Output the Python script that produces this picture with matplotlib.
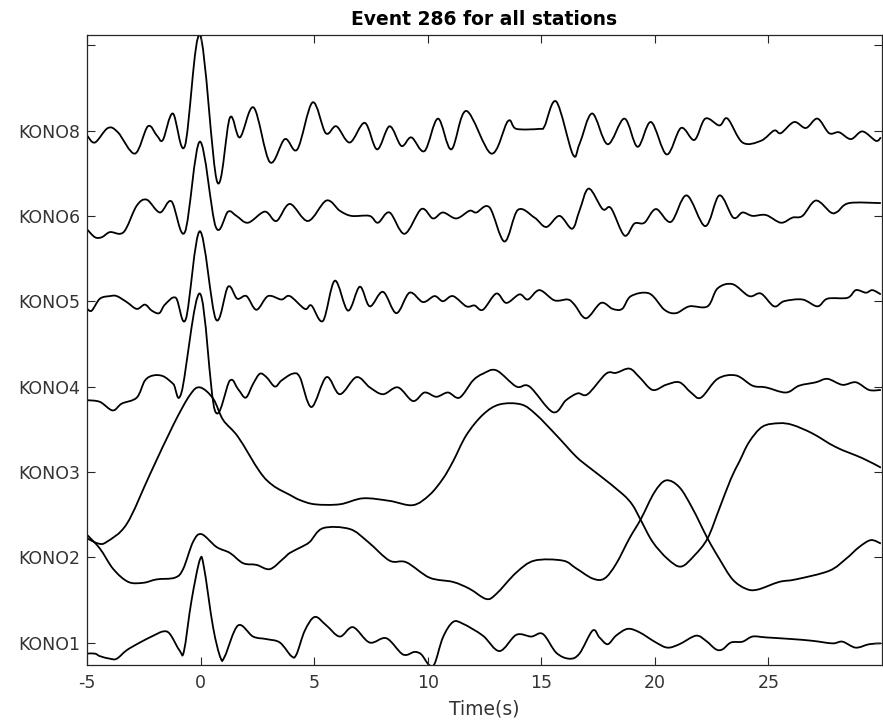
import matplotlib
matplotlib.use("Agg")
import matplotlib.pyplot as plt
from matplotlib.path import Path
from matplotlib.patches import PathPatch
import numpy as np

# Station names in plotting order (bottom to top) and their vertical offsets
stations = ["KONO1", "KONO2", "KONO3", "KONO4", "KONO5", "KONO6", "KONO8"]
offsets = [1, 2, 3, 4, 5, 6, 7]

# Normalised waveforms: time (s) and amplitude (trace units)
t_kono8 = [-4.99, -4.65, -4.08, -3.64, -2.89, -2.32, -1.92, -1.66, -1.22, -0.69, -0.03, 0.73,
           1.29, 1.73, 2.34, 3.05, 3.71, 4.26, 4.93, 5.51, 5.98, 6.57, 7.23, 7.77, 8.32, 8.84,
           9.28, 9.86, 10.45, 11.04, 11.70, 12.80, 13.53, 13.90, 14.92, 15.14, 15.66, 16.39,
           16.68, 17.24, 17.92, 18.66, 19.24, 19.83, 20.52, 21.15, 21.74, 22.22, 22.84, 23.20,
           23.86, 24.67, 25.25, 25.55, 26.13, 26.65, 27.16, 27.67, 28.11, 28.63, 29.14, 29.73, 29.95]
a_kono8 = [-0.06, -0.14, 0.03, -0.02, -0.27, 0.05, -0.06, -0.11, 0.20, -0.18, 1.12, -0.60,
           0.15, -0.08, 0.27, -0.37, -0.10, -0.22, 0.33, -0.03, 0.05, -0.14, 0.09, -0.22, 0.05, -0.18,
           -0.08, -0.24, 0.14, -0.22, 0.23, -0.27, 0.11, 0.02, 0.02, 0.05, 0.34, -0.28,
           -0.16, 0.20, -0.16, 0.14, -0.19, 0.10, -0.28, 0.03, -0.11, 0.14, 0.06, 0.14,
           -0.14, -0.12, 0.00, -0.03, 0.10, 0.03, 0.14, -0.03, -0.02, -0.10, -0.01, -0.12, -0.08]

t_kono6 = [-4.99, -4.65, -4.35, -3.99, -3.55, -3.28, -2.81, -2.37, -1.79, -1.28, -0.69, -0.03,
           0.67, 1.21, 1.58, 2.09, 2.83, 3.34, 3.93, 4.73, 5.54, 6.13, 6.64, 7.44, 7.81, 8.32,
           8.98, 9.72, 10.23, 10.67, 11.26, 11.84, 12.14, 12.72, 13.38, 13.97, 14.70, 15.22,
           15.80, 16.36, 16.68, 17.09, 17.70, 18.07, 18.66, 19.10, 19.54, 20.05, 20.71, 21.40,
           22.22, 22.84, 23.45, 23.86, 24.30, 24.89, 25.55, 26.06, 26.50, 27.09, 27.75, 28.04,
           28.55, 29.95]
a_kono6 = [-0.16, -0.25, -0.25, -0.19, -0.21, -0.15, 0.12, 0.19, 0.04, 0.17, -0.19, 0.87,
           -0.13, 0.05, 0.00, -0.08, 0.05, -0.06, 0.14, -0.06, 0.18, 0.06, 0.00, 0.00, -0.08, 0.04,
           -0.21, 0.08, -0.03, 0.04, -0.03, 0.06, 0.04, 0.10, -0.30, 0.07, -0.02, -0.13,
           0.00, -0.15, 0.06, 0.32, 0.08, 0.09, -0.23, -0.09, -0.08, 0.08, -0.07, 0.24,
           -0.12, 0.24, -0.02, 0.04, 0.00, 0.01, -0.08, -0.02, 0.00, 0.18, 0.04, 0.05,
           0.15, 0.15]

t_kono5 = [-4.99, -4.79, -4.43, -3.99, -3.69, -3.25, -2.81, -2.45, -2.15, -1.82, -1.57, -1.09,
           -0.65, -0.03, 0.67, 1.21, 1.61, 2.02, 2.46, 2.97, 3.56, 3.93, 4.59, 4.88, 5.39, 5.91,
           6.49, 7.01, 7.45, 8.03, 8.62, 9.20, 9.79, 10.30, 10.67, 11.11, 11.70, 12.06, 12.43,
           13.02, 13.46, 14.04, 14.41, 14.92, 15.58, 16.17, 16.46, 16.97, 17.63, 18.14, 18.56,
           18.95, 19.76, 20.42, 20.93, 21.52, 22.32, 22.76, 23.42, 24.15, 24.67, 25.25, 25.69,
           26.50, 27.16, 27.60, 28.48, 28.85, 29.29, 29.58, 29.95]
a_kono5 = [-0.09, -0.11, 0.03, 0.06, 0.06, -0.01, -0.09, -0.04, -0.11, -0.14, -0.04, 0.04,
           -0.21, 0.82, -0.21, 0.17, 0.03, 0.06, -0.10, 0.06, 0.02, 0.06, -0.09, -0.05, -0.23, 0.24,
           -0.11, 0.17, -0.06, 0.11, -0.14, 0.10, -0.01, 0.06, 0.00, 0.06, -0.06, -0.05, -0.10,
           0.09, -0.02, 0.08, 0.02, 0.13, 0.01, 0.02, -0.04, -0.20, -0.02, -0.09, -0.09,
           0.06, 0.09, -0.10, -0.14, -0.06, -0.06, 0.15, 0.20, 0.06, 0.09, -0.06, 0.00,
           0.02, -0.06, 0.03, 0.04, 0.13, 0.10, 0.13, 0.08]

t_kono4 = [-4.99, -4.43, -3.87, -3.47, -2.81, -2.45, -2.08, -1.64, -1.20, -0.84, -0.03, 0.63,
           1.29, 1.65, 1.99, 2.31, 2.61, 2.90, 3.27, 3.56, 4.05, 4.37, 4.88, 5.54, 6.13, 6.86,
           7.45, 8.03, 8.69, 9.35, 9.86, 10.38, 10.89, 11.40, 11.99, 12.43, 13.02, 13.90, 14.48,
           15.51, 16.09, 16.60, 17.04, 17.85, 18.29, 18.88, 19.32, 19.90, 20.49, 21.08, 21.59,
           22.03, 22.76, 23.57, 24.30, 24.89, 25.77, 26.35, 27.09, 27.60, 28.26, 28.85, 29.43, 29.95]
a_kono4 = [-0.16, -0.18, -0.28, -0.20, -0.13, 0.07, 0.13, 0.12, 0.03, -0.07, 1.09, -0.28,
           0.07, -0.03, -0.13, 0.03, 0.15, 0.11, 0.00, 0.07, 0.15, 0.11, -0.24, 0.11, -0.09, 0.11,
           -0.01, -0.09, -0.01, -0.17, -0.07, -0.12, -0.07, -0.13, 0.07, 0.15, 0.19, 0.00, 0.00,
           -0.30, -0.16, -0.08, -0.09, 0.15, 0.16, 0.21, 0.11, -0.04, 0.02, 0.05, -0.07,
           -0.13, 0.09, 0.13, 0.01, -0.01, -0.07, 0.01, 0.05, 0.09, 0.02, 0.05, -0.04, -0.04]

t_kono3 = [-4.99, -4.50, -4.13, -3.25, -2.23, -1.20, -0.47, -0.03, 0.55, 0.99, 1.65, 2.61,
           3.19, 3.93, 4.37, 5.03, 6.13, 7.15, 8.32, 9.35, 10.08, 10.67, 11.11, 11.70, 12.43,
           13.16, 14.12, 14.78, 15.66, 16.53, 17.12, 17.56, 18.58, 19.02, 19.39, 19.90, 20.56,
           21.15, 21.74, 22.32, 22.84, 23.35, 23.72, 24.15, 24.74, 25.47, 26.06, 26.94, 27.97,
           29.14, 29.95]
a_kono3 = [-0.78, -0.84, -0.82, -0.61, -0.03, 0.55, 0.90, 0.99, 0.86, 0.61, 0.41, 0.00,
           -0.16, -0.27, -0.33, -0.38, -0.38, -0.31, -0.34, -0.39, -0.27, -0.08, 0.12, 0.43, 0.67,
           0.79, 0.79, 0.67, 0.43, 0.18, 0.05, -0.04, -0.26, -0.39, -0.57, -0.82, -1.02,
           -1.11, -0.98, -0.78, -0.43, -0.08, 0.12, 0.35, 0.53, 0.57, 0.55, 0.45, 0.29,
           0.16, 0.05]

t_kono2 = [-4.99, -4.43, -3.84, -3.18, -2.52, -1.93, -1.13, -0.77, -0.33, 0.04, 0.70, 1.29,
           1.87, 2.46, 3.05, 3.63, 3.93, 4.44, 4.81, 5.39, 6.57, 7.37, 8.32, 9.06, 10.08, 11.11,
           11.84, 12.58, 13.02, 13.90, 14.70, 15.95, 16.53, 17.26, 17.78, 18.29, 18.88, 19.39,
           19.98, 20.49, 21.08, 21.66, 22.32, 22.84, 23.42, 24.01, 24.52, 25.47, 26.21, 27.67,
           28.41, 29.00, 29.51, 29.95]
a_kono2 = [0.26, 0.10, -0.14, -0.29, -0.30, -0.26, -0.24, -0.14, 0.18, 0.27, 0.12, 0.05,
           -0.07, -0.09, -0.14, -0.02, 0.05, 0.12, 0.18, 0.34, 0.33, 0.18, -0.04, -0.06, -0.24, -0.29,
           -0.37, -0.49, -0.43, -0.18, -0.04, -0.04, -0.13, -0.25, -0.25, -0.08, 0.22, 0.45,
           0.76, 0.90, 0.82, 0.57, 0.22, -0.02, -0.26, -0.37, -0.38, -0.29, -0.26, -0.16,
           -0.02, 0.12, 0.20, 0.16]

t_kono1 = [-4.99, -4.65, -4.43, -3.99, -3.69, -3.25, -2.67, -2.08, -1.64, -1.35, -0.91, -0.73,
           -0.40, -0.03, 0.15, 0.55, 0.88, 1.07, 1.65, 2.31, 2.90, 3.49, 4.00, 4.22, 4.59, 5.03,
           5.54, 6.13, 6.71, 7.44, 8.18, 8.91, 9.42, 9.72, 10.05, 10.30, 10.67, 11.11, 11.55,
           12.43, 13.16, 13.90, 14.56, 15.07, 15.66, 16.24, 16.68, 17.26, 17.56, 17.92, 18.29,
           18.80, 19.32, 20.05, 20.56, 21.08, 21.81, 22.25, 22.69, 22.98, 23.35, 23.86, 24.30,
           24.89, 26.06, 26.94, 27.82, 28.26, 28.84, 29.43, 29.95]
a_kono1 = [-0.13, -0.13, -0.16, -0.19, -0.19, -0.09, 0.00, 0.08, 0.13, 0.10, -0.10, -0.10,
           0.49, 0.97, 0.88, 0.18, -0.18, -0.16, 0.20, 0.07, 0.04, 0.00, -0.16, -0.14, 0.14, 0.30,
           0.20, 0.07, 0.18, 0.00, 0.05, -0.14, -0.11, -0.14, -0.26, -0.25, 0.06, 0.24, 0.22,
           0.08, -0.10, 0.09, 0.07, 0.10, -0.12, -0.19, -0.13, 0.14, 0.06, -0.02, 0.08,
           0.16, 0.12, 0.00, -0.06, -0.02, 0.08, 0.02, -0.08, -0.08, 0.00, 0.01, 0.07,
           0.06, 0.04, 0.02, -0.01, 0.01, -0.06, -0.02, -0.01]

traces = [
    (t_kono1, a_kono1),
    (t_kono2, a_kono2),
    (t_kono3, a_kono3),
    (t_kono4, a_kono4),
    (t_kono5, a_kono5),
    (t_kono6, a_kono6),
    (t_kono8, a_kono8),
]

x_ticks = [-5, 0, 5, 10, 15, 20, 25]


def smooth_trace_path(x, y):
    """Cubic Bezier path through every sample (Catmull-Rom tangents)."""
    pts = np.column_stack([x, y]).astype(float)
    n = len(pts)
    verts = [pts[0]]
    codes = [Path.MOVETO]
    for i in range(n - 1):
        p0 = pts[i - 1] if i > 0 else pts[i]
        p1 = pts[i]
        p2 = pts[i + 1]
        p3 = pts[i + 2] if i + 2 < n else pts[i + 1]
        c1 = p1 + (p2 - p0) / 6.0
        c2 = p2 - (p3 - p1) / 6.0
        verts.extend([c1, c2, p2])
        codes.extend([Path.CURVE4] * 3)
    return Path(np.array(verts), codes)


fig = plt.figure(figsize=(8.83, 7.25), dpi=100)
ax = fig.add_axes([87 / 883, 60.3 / 725, 795 / 883, 629.7 / 725])

lo, hi = np.inf, -np.inf
for (t, a), off in zip(traces, offsets):
    y = np.asarray(a) + off
    patch = PathPatch(smooth_trace_path(t, y), facecolor="none", edgecolor="black",
                      linewidth=1.3, transform=ax.transData)
    ax.add_patch(patch)
    lo, hi = min(lo, y.min()), max(hi, y.max())

ax.set_xlim(-5, 30)
ax.set_ylim(lo, hi)

ax.set_xticks(x_ticks)
ax.set_xticklabels([str(v) for v in x_ticks])
ax.set_yticks(offsets + [8])
ax.set_yticklabels(stations + [""])

axis_grey = "#262626"
for s in ax.spines.values():
    s.set_color(axis_grey)
    s.set_linewidth(0.9)
ax.tick_params(direction="in", length=5.5, width=0.8, colors=axis_grey,
               top=True, right=True, labelsize=12.5)
ax.tick_params(axis="x", pad=7)
ax.tick_params(axis="y", pad=5)
for lbl in ax.get_xticklabels() + ax.get_yticklabels():
    lbl.set_color("#333333")

ax.set_xlabel("Time(s)", fontsize=13.5, color="#333333", labelpad=5)
ax.set_title("Event 286 for all stations", fontsize=13.5, fontweight="bold", pad=7)

fig.savefig("out.png", dpi=100)
